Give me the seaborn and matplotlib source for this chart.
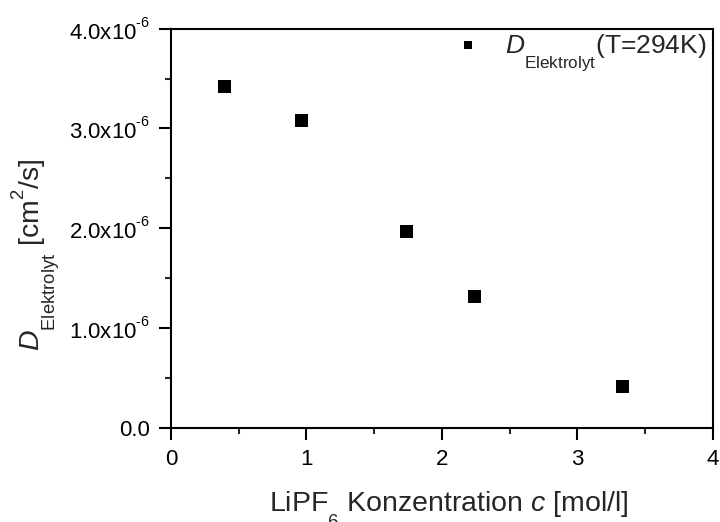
import matplotlib
matplotlib.use("Agg")
import matplotlib.pyplot as plt
import matplotlib._mathtext as _mt
import seaborn as sns
import pandas as pd
from matplotlib.ticker import MultipleLocator, FuncFormatter

# Data
concentration = [0.394, 0.960, 1.738, 2.240, 3.336]          # mol/l
diffusion = [3.419e-6, 3.078e-6, 1.965e-6, 1.313e-6, 0.411e-6]  # cm^2/s
series_label = r"$\mathit{D}_{\mathrm{Elektrolyt}}$(T=294K)"

# Origin-like sub/superscript geometry
_mt.SHRINK_FACTOR = 0.65
_mt.FontConstantsBase.sub1 = 1.1
_mt.FontConstantsBase.sup1 = 1.0

sns.set_style("ticks")
plt.rcParams["font.family"] = ["Liberation Sans", "DejaVu Sans"]
plt.rcParams["mathtext.fontset"] = "custom"
plt.rcParams["mathtext.rm"] = "Liberation Sans"
plt.rcParams["mathtext.it"] = "Liberation Sans:italic"
plt.rcParams["mathtext.bf"] = "Liberation Sans:bold"

df = pd.DataFrame({"c": concentration, "D": diffusion, "series": series_label})

fig = plt.figure(figsize=(7.2, 5.22), dpi=100)
ax = fig.add_axes([0.2375, 0.1806, 0.7524, 0.7644])

sns.scatterplot(data=df, x="c", y="D", hue="series", palette=["black"],
                marker="s", s=88, edgecolor="black", linewidth=0, ax=ax)

ax.set_xlim(0, 4)
ax.set_ylim(0, 4e-6)
ax.xaxis.set_major_locator(MultipleLocator(1))
ax.xaxis.set_minor_locator(MultipleLocator(0.5))
ax.yaxis.set_major_locator(MultipleLocator(1e-6))
ax.yaxis.set_minor_locator(MultipleLocator(0.5e-6))

def yfmt(v, pos):
    if abs(v) < 1e-12:
        return "0.0"
    return r"%.1fx10$^{\text{-6}}$" % (v / 1e-6)

ax.yaxis.set_major_formatter(FuncFormatter(yfmt))
ax.xaxis.set_major_formatter(FuncFormatter(lambda v, p: "%d" % round(v)))

for sp in ax.spines.values():
    sp.set_visible(True)
    sp.set_linewidth(1.5)
    sp.set_color("black")

ax.tick_params(axis="both", which="major", direction="out", length=8.6, width=1.5,
               labelsize=16, colors="black", pad=6.5)
ax.tick_params(axis="both", which="minor", direction="out", length=4.3, width=1.5)
ax.tick_params(top=False, right=False, which="both")

ax.set_xlabel(r"LiPF$_{6}$ Konzentration $\mathit{c}$ [mol/l]", fontsize=20.5)
ax.set_ylabel(r"$\mathit{D}_{\mathrm{Elektrolyt}}$ [cm$^{2}$/s]", fontsize=20.5)
ax.xaxis.set_label_coords(0.513, -0.156)
ax.yaxis.set_label_coords(-0.199, 0.433)

leg = ax.legend(loc="upper right", bbox_to_anchor=(1.0 + 8 / 541.7, 1.0 + 10 / 399),
                frameon=False, fontsize=19, markerscale=0.62,
                handletextpad=0.9, borderaxespad=0.15, handlelength=1.0, title=None)

fig.savefig("out.png", dpi=100)
